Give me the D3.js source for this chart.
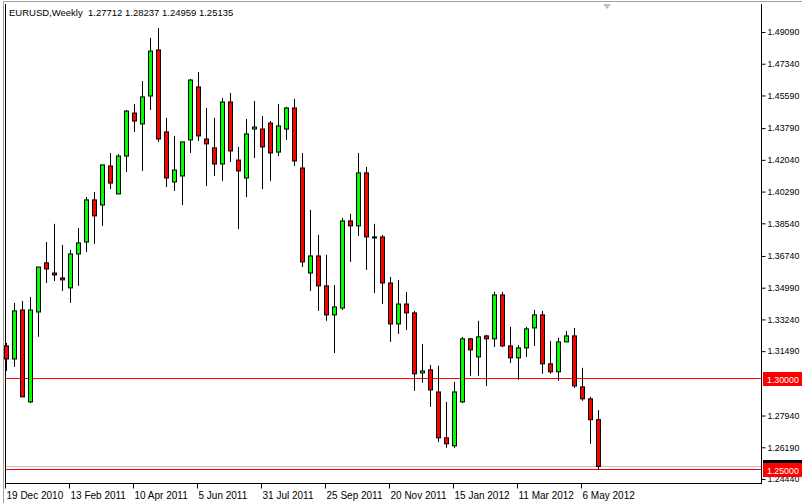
<!DOCTYPE html>
<html><head><meta charset="utf-8">
<script src="https://cdn.jsdelivr.net/npm/d3@7"></script>
<style>body{margin:0;background:#fff}svg{display:block;font-family:"Liberation Sans",Arial,sans-serif}</style>
</head><body><div id="chart"></div>
<script>
// Weekly EURUSD candles, starting week of 19 Dec 2010
const opens  = [1.3178,1.3106,1.3376,1.2869,1.3365,1.3636,1.3580,1.3553,1.3498,1.3685,1.3751,1.3983,1.3955,1.4170,1.4016,1.4225,1.4462,1.4402,1.4556,1.4810,1.4358,1.4082,1.4115,1.4314,1.4606,1.4319,1.4270,1.4181,1.4523,1.4203,1.4104,1.4374,1.4374,1.4407,1.4247,1.4374,1.4490,1.4159,1.3580,1.3674,1.3509,1.3349,1.3387,1.3867,1.3840,1.4132,1.3779,1.3779,1.3525,1.3299,1.3409,1.3360,1.3029,1.3046,1.2924,1.2671,1.2627,1.2869,1.3217,1.3117,1.3233,1.3217,1.3459,1.3178,1.3112,1.3167,1.3277,1.3349,1.3079,1.3035,1.3200,1.3233,1.2952,1.2886,1.27712];
const highs  = [1.3194,1.3415,1.3426,1.3448,1.3613,1.3751,1.3851,1.3735,1.3707,1.3828,1.3999,1.4027,1.4176,1.4242,1.4236,1.4479,1.4512,1.4639,1.4876,1.4931,1.4435,1.4336,1.4303,1.4650,1.4689,1.4490,1.4435,1.4545,1.4573,1.4275,1.4429,1.4529,1.4446,1.4418,1.4512,1.4496,1.4540,1.4242,1.3928,1.3790,1.3680,1.3514,1.3884,1.3906,1.4242,1.4165,1.3851,1.3790,1.3558,1.3542,1.3476,1.3371,1.3189,1.3073,1.3068,1.2869,1.2979,1.3228,1.3222,1.3316,1.3239,1.3476,1.3476,1.3283,1.3183,1.3283,1.3376,1.3371,1.3206,1.3222,1.3261,1.3277,1.3057,1.2897,1.28237];
const lows   = [1.3040,1.3062,1.2897,1.2863,1.3228,1.3525,1.3536,1.3481,1.3415,1.3509,1.3696,1.3740,1.3840,1.4043,1.4016,1.4137,1.4358,1.4143,1.4479,1.4303,1.4054,1.4032,1.3955,1.4242,1.4308,1.4060,1.4115,1.4088,1.4192,1.3823,1.3999,1.4214,1.4043,1.4088,1.4225,1.4314,1.4170,1.3613,1.3481,1.3371,1.3316,1.3139,1.3376,1.3641,1.3784,1.3597,1.3470,1.3409,1.3200,1.3244,1.3266,1.2930,1.2974,1.2842,1.2649,1.2616,1.2616,1.2863,1.3013,1.3013,1.2957,1.3172,1.3172,1.3084,1.2991,1.3117,1.3178,1.3024,1.3024,1.2985,1.3200,1.2946,1.2875,1.2638,1.24959];
const closes = [1.3106,1.3371,1.2897,1.3376,1.3613,1.3602,1.3569,1.3542,1.3685,1.3746,1.3983,1.3895,1.4176,1.4076,1.4225,1.4473,1.4418,1.4551,1.4804,1.4319,1.4104,1.4148,1.4303,1.4644,1.4336,1.4292,1.4181,1.4523,1.4253,1.4143,1.4347,1.4385,1.4275,1.4242,1.4391,1.4490,1.4198,1.3641,1.3674,1.3509,1.3349,1.3393,1.3867,1.3840,1.4132,1.3779,1.3776,1.3525,1.3299,1.3409,1.3360,1.3024,1.3040,1.2935,1.2671,1.2638,1.2924,1.3217,1.3156,1.3228,1.3217,1.3459,1.3178,1.3112,1.3167,1.3272,1.3349,1.3079,1.3035,1.3200,1.3233,1.2957,1.2886,1.2771,1.25135];
const priceTicks = [1.49090,1.47340,1.45590,1.43790,1.42040,1.40290,1.38540,1.36740,1.34990,1.33240,1.31490,1.27940,1.26190,1.24440];
const dateLabels = ["19 Dec 2010","13 Feb 2011","10 Apr 2011","5 Jun 2011","31 Jul 2011","25 Sep 2011","20 Nov 2011","15 Jan 2012","11 Mar 2012","6 May 2012"];
const levelLines = [1.30000, 1.25000];

const W = 802, H = 503;
const plotLeft = 5, plotRight = 761, plotTop = 4, plotBottom = 483;
const font = '"Liberation Sans",Arial,sans-serif';
const fmt = d3.format('.5f');

const svg = d3.select('#chart').append('svg').attr('width', W).attr('height', H);

// window frame
svg.append('rect').attr('x', 0).attr('y', 0).attr('width', W).attr('height', H).attr('fill', '#fff');
svg.append('line').attr('x1', 3.5).attr('x2', 3.5).attr('y1', 2).attr('y2', H).attr('stroke', '#a0a0a0');
svg.append('line').attr('x1', 3).attr('x2', W).attr('y1', 1.5).attr('y2', 1.5).attr('stroke', '#a0a0a0');

const x = d3.scaleLinear().domain([0, opens.length - 1]).range([6, 6 + 8 * (opens.length - 1)]);
const y = d3.scaleLinear().domain([1.2444, 1.4909]).range([479, 32]);

// axes box
svg.append('line').attr('x1', plotLeft + 0.5).attr('x2', plotLeft + 0.5).attr('y1', plotTop).attr('y2', plotBottom).attr('stroke', '#000');
svg.append('line').attr('x1', plotRight + 0.5).attr('x2', plotRight + 0.5).attr('y1', plotTop).attr('y2', plotBottom).attr('stroke', '#000');
svg.append('line').attr('x1', plotLeft).attr('x2', plotRight + 1).attr('y1', plotBottom + 0.5).attr('y2', plotBottom + 0.5).attr('stroke', '#000');

// price axis
const ya = svg.append('g').attr('transform', `translate(${plotRight + 0.5},0)`)
  .call(d3.axisRight(y).tickValues(priceTicks).tickFormat(fmt).tickSize(4).tickPadding(2));
ya.select('.domain').remove();
ya.selectAll('text').attr('font-size', 8.8).attr('fill', '#000').attr('font-family', font);

// date axis
const xa = svg.append('g').attr('transform', `translate(0,${plotBottom + 0.5})`)
  .call(d3.axisBottom(x).tickValues(dateLabels.map((d, i) => i * 8)).tickFormat((d, i) => dateLabels[i]).tickSize(5).tickPadding(3));
xa.select('.domain').remove();
xa.selectAll('.tick line').attr('transform', 'translate(-1,0)');
xa.selectAll('text').attr('text-anchor', 'start').attr('dx', 0).attr('font-size', 10).attr('fill', '#000')
  .attr('font-family', font);

// bid line (gray) and level lines (red)
svg.append('line').attr('x1', plotLeft + 1).attr('x2', plotRight).attr('y1', Math.round(y(1.25135)) + 0.5).attr('y2', Math.round(y(1.25135)) + 0.5).attr('stroke', '#c0c0c0');
svg.selectAll('.lvl').data(levelLines).join('line')
  .attr('x1', plotLeft + 1).attr('x2', plotRight).attr('y1', d => Math.round(y(d)) + 0.5).attr('y2', d => Math.round(y(d)) + 0.5)
  .attr('stroke', '#ff0000');

// candles
const g = svg.append('g');
opens.forEach((o, i) => {
  const cx = Math.round(x(i)) + 0.5;
  const c = closes[i];
  g.append('line').attr('x1', cx).attr('x2', cx).attr('y1', y(highs[i])).attr('y2', y(lows[i])).attr('stroke', '#000');
  const yt = y(Math.max(o, c)), yb = y(Math.min(o, c));
  g.append('rect').attr('x', cx - 2).attr('y', yt).attr('width', 4).attr('height', Math.max(yb - yt, 1))
    .attr('fill', c >= o ? '#00ff00' : '#ff0000').attr('stroke', '#000').attr('stroke-width', 1);
});

// price labels on axis
const bidY = Math.round(y(1.25135));
svg.append('rect').attr('x', plotRight + 2).attr('y', bidY - 6).attr('width', 40).attr('height', 13).attr('fill', '#000');
svg.selectAll('.lbl').data(levelLines).join('g').each(function(d) {
  const yy = Math.round(y(d));
  const s = d3.select(this);
  s.append('rect').attr('x', plotRight + 2).attr('y', yy - 6).attr('width', 40).attr('height', 14).attr('fill', '#ff0000');
  s.append('text').attr('x', plotRight + 6).attr('y', yy + 4.5).attr('font-size', 8.8).attr('fill', '#fff')
    .attr('font-family', font).text(fmt(d));
});

// title
svg.append('text').attr('x', 9).attr('y', 16).attr('font-size', 9.5).attr('fill', '#000')
  .attr('xml:space', 'preserve').style('white-space', 'pre')
  .text('EURUSD,Weekly  1.27712 1.28237 1.24959 1.25135');

// shift marker triangle
svg.append('path').attr('d', 'M603,4 L611,4 L607,9 Z').attr('fill', '#c0c0c0');
</script></body></html>
